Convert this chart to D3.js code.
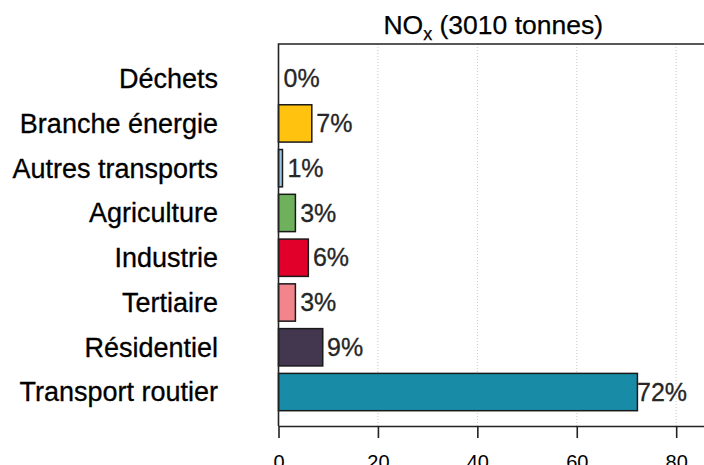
<!DOCTYPE html>
<html lang="fr">
<head>
<meta charset="UTF-8" />
<script src="https://cdn.jsdelivr.net/npm/d3@7"></script>
<style>
  html, body { margin: 0; padding: 0; background: #fff; }
  svg { display: block; font-family: "Liberation Sans", Arial, sans-serif; }
</style>
</head>
<body>
<div id="chart"></div>
<script>
// data (top to bottom)
var sectors = ["Déchets", "Branche énergie", "Autres transports", "Agriculture",
               "Industrie", "Tertiaire", "Résidentiel", "Transport routier"];
var shares = [0, 6.7, 0.8, 3.4, 6.0, 3.4, 8.9, 72.2];
var xTicks = [0, 20, 40, 60, 80];
var total = 3010;

var palette = ["#ffffff", "#ffc20e", "#9cc8df", "#6fb05c", "#e1002a", "#f2858b", "#433750", "#188ba6"];

const width = 704, height = 465;
const plot = { left: 278.5, top: 44, right: 708, bottom: 426 };

const svg = d3.select("#chart").append("svg")
    .attr("width", width)
    .attr("height", height);

const x = d3.scaleLinear()
    .domain([0, 86.4])
    .range([plot.left, plot.right]);

const y = d3.scaleBand()
    .domain(sectors)
    .range([60, 410.7])
    .paddingInner(0.1667)
    .paddingOuter(0);

const color = d3.scaleOrdinal().domain(sectors).range(palette);

// dotted grid
svg.append("g")
    .selectAll("line")
    .data(xTicks.slice(1))
    .join("line")
    .attr("x1", d => x(d)).attr("x2", d => x(d))
    .attr("y1", plot.top).attr("y2", plot.bottom)
    .attr("stroke", "#c8c8c8")
    .attr("stroke-width", 1)
    .attr("stroke-dasharray", "1,2");

// bars
svg.append("g")
    .selectAll("rect")
    .data(sectors)
    .join("rect")
    .attr("x", x(0))
    .attr("y", d => y(d))
    .attr("width", (d, i) => x(shares[i]) - x(0))
    .attr("height", y.bandwidth())
    .attr("fill", d => color(d))
    .attr("stroke", "#1a1a1a")
    .attr("stroke-width", (d, i) => shares[i] > 0 ? 1.5 : 0);

// percentage labels
svg.append("g")
    .selectAll("text")
    .data(sectors)
    .join("text")
    .attr("x", (d, i) => x(shares[i] * 0.985) + 5)
    .attr("y", d => y(d) + y.bandwidth() / 2)
    .attr("dy", "0.35em")
    .attr("font-size", 25)
    .attr("fill", "#262626")
    .attr("stroke", "#262626")
    .attr("stroke-width", 0.3)
    .text((d, i) => Math.round(shares[i]) + "%");

// category labels
svg.append("g")
    .selectAll("text")
    .data(sectors)
    .join("text")
    .attr("x", 218)
    .attr("y", d => y(d) + y.bandwidth() / 2)
    .attr("dy", "0.35em")
    .attr("text-anchor", "end")
    .attr("font-size", 27)
    .attr("fill", "#000")
    .attr("stroke", "#000")
    .attr("stroke-width", 0.3)
    .text(d => d);

// box (left + top visible)
svg.append("path")
    .attr("d", `M${plot.right},${plot.top}H${plot.left}V${plot.bottom}`)
    .attr("fill", "none")
    .attr("stroke", "#222")
    .attr("stroke-width", 1.6);

// x axis
const xAxis = svg.append("g")
    .attr("transform", `translate(0,${plot.bottom})`)
    .call(d3.axisBottom(x).tickValues(xTicks).tickSize(12).tickSizeOuter(0).tickPadding(17));
xAxis.select(".domain").attr("stroke", "#222").attr("stroke-width", 1.6);
xAxis.selectAll(".tick line").attr("stroke", "#222").attr("stroke-width", 1.6);
xAxis.selectAll(".tick text")
    .attr("font-size", 20)
    .attr("font-family", "Liberation Sans, Arial, sans-serif")
    .attr("fill", "#000");

// title
const title = svg.append("text")
    .attr("x", (plot.left + plot.right) / 2)
    .attr("y", 34)
    .attr("text-anchor", "middle")
    .attr("font-size", 26.5)
    .attr("fill", "#000")
    .attr("stroke", "#000")
    .attr("stroke-width", 0.25);
title.append("tspan").text("NO");
title.append("tspan").attr("font-size", 18).attr("dy", 6).text("x");
title.append("tspan").attr("dy", -6).text(" (" + total + " tonnes)");
</script>
</body>
</html>
